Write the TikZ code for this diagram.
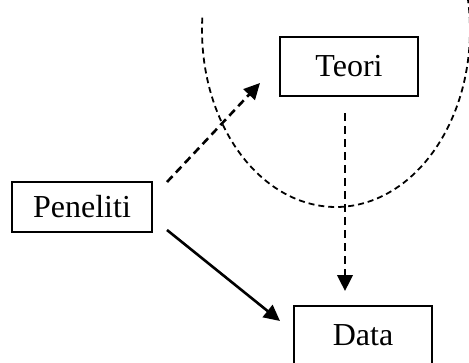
\documentclass[tikz,border=0pt]{standalone}
\usepackage{fontspec}
\setmainfont{Liberation Serif}
\usetikzlibrary{arrows.meta}
\tikzset{
  boxnode/.style={draw, line width=1.6pt, inner sep=0pt, align=center,
    font=\fontsize{32}{36}\selectfont},
  arrowline/.style={line width=2.6pt, -{Triangle[length=16pt,width=15.5pt]}},
  dasharrow/.style={arrowline, dash pattern=on 8pt off 5pt},
  arcline/.style={line width=1.8pt, dash pattern=on 6pt off 4pt}
}
\begin{document}
\begin{tikzpicture}[x=1pt,y=-1pt]
\useasboundingbox (0,0) rectangle (469,362);
\clip (0,0) rectangle (469,362);
\fill[white] (0,0) rectangle (469,362);
% arc
\draw[arcline] plot[domain=184:-20, samples=150, smooth] ({336+134*cos(\x)}, {30+177*sin(\x)});
% boxes
\node[boxnode, minimum width=140pt, minimum height=50pt] (pen) at (82,207) {Peneliti};
\node[boxnode, minimum width=138pt, minimum height=59pt] (teo) at (349,66.5) {Teori};
\node[boxnode, minimum width=138pt, minimum height=59pt] (dat) at (363,335.5) {Data};
% connector end points
\coordinate (p1) at (167,182);
\coordinate (t1) at (260,83);
\coordinate (p2) at (167,230);
\coordinate (d1) at (280,321);
\coordinate (t2) at (345,113);
\coordinate (d2) at (345,291);
% connectors
\draw[dasharrow] (p1) -- (t1);
\draw[arrowline] (p2) -- (d1);
\draw[dasharrow] (t2) -- (d2);
\end{tikzpicture}
\end{document}
